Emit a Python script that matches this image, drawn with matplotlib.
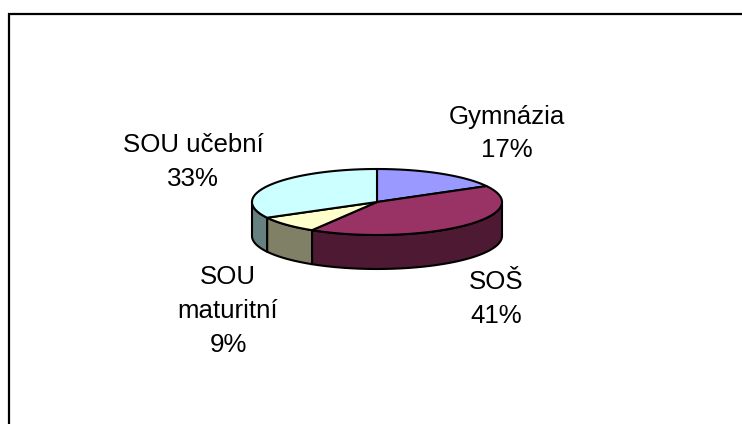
import numpy as np
import matplotlib
matplotlib.use("Agg")
import matplotlib.pyplot as plt
from matplotlib.patches import Polygon

labels = ["Gymnázia\n17%", "SOŠ\n41%", "SOU\nmaturitní\n9%", "SOU učební\n33%"]
shares = [17, 41.7, 8.4, 32.9]
top_colors = ["#9999FF", "#993366", "#FFFFCC", "#CCFFFF"]
side_colors = ["#4C4C80", "#4D1933", "#808066", "#668080"]

W, H = 742, 424
fig = plt.figure(figsize=(W/100, H/100), dpi=100)
ax = fig.add_axes([0, 0, 1, 1])
ax.set_xlim(0, W); ax.set_ylim(H, 0); ax.axis("off")

ax.plot([8.5, 8.5, W], [H, 13.5, 13.5], color="black", lw=1.6, solid_joinstyle="miter")

cx, cy, rx, ry, depth = 377, 202, 125, 33, 34

def pt(a, dy=0):
    return cx + rx*np.sin(a), cy - ry*np.cos(a) + dy

bounds = 2*np.pi*np.cumsum([0] + shares)/sum(shares)
for i in range(len(shares)):
    a0, a1 = bounds[i], bounds[i+1]
    lo, hi = max(a0, np.pi/2), min(a1, 3*np.pi/2)
    if lo < hi:
        t = np.linspace(lo, hi, 80)
        x, y = pt(t)
        xb, yb = pt(t[::-1], depth)
        ax.add_patch(Polygon(np.c_[np.r_[x, xb], np.r_[y, yb]], closed=True,
                             fc=side_colors[i], ec="black", lw=1.5, joinstyle="round"))
for i in range(len(shares)):
    t = np.linspace(bounds[i], bounds[i+1], 120)
    x, y = pt(t)
    ax.add_patch(Polygon(np.c_[np.r_[cx, x], np.r_[cy, y]], closed=True,
                         fc=top_colors[i], ec="black", lw=1.5, joinstyle="round"))

label_xy = [(506.5, 133.5), (496, 299), (228, 311), (193, 162)]
for s, (x, y) in zip(labels, label_xy):
    ax.text(x, y, s, ha="center", va="center", fontsize=18.6, family="Liberation Sans",
            color="black", linespacing=1.5)

fig.savefig("out.png", dpi=100, facecolor="white")
